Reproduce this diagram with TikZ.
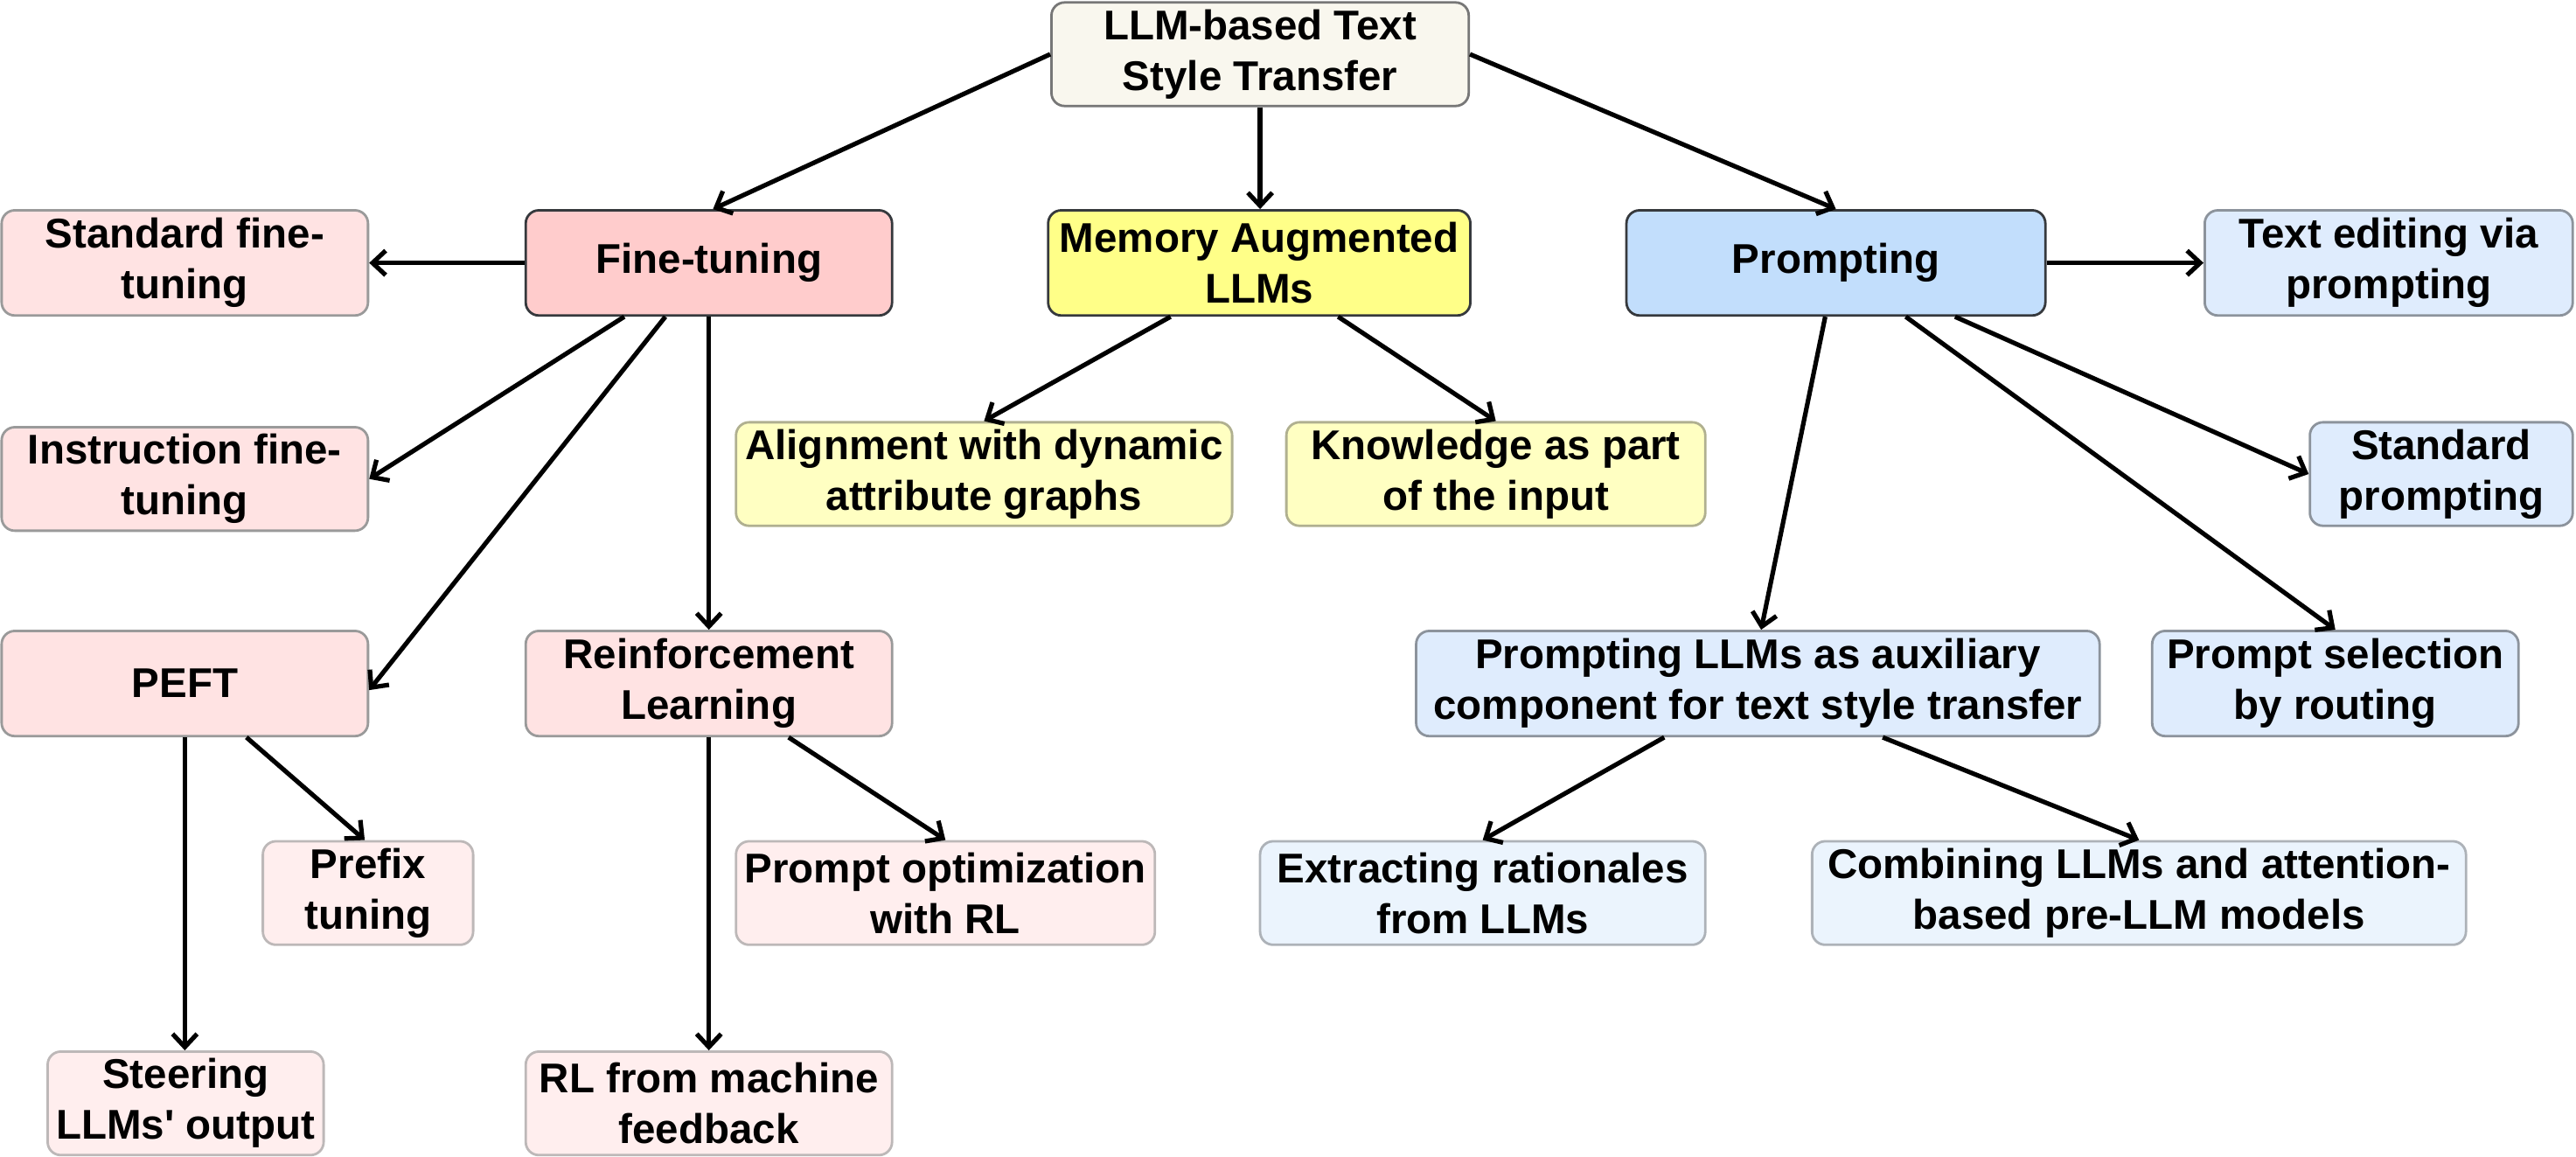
\documentclass[tikz,border=0pt]{standalone}
\usepackage{fontspec}
\setmainfont{Liberation Sans}
\newfontfamily\nomapfont{Liberation Sans}
\usetikzlibrary{arrows.meta,calc}
\definecolor{rootfill}{HTML}{F9F7EE}
\definecolor{rootline}{HTML}{777777}
\definecolor{mainline}{HTML}{36393D}
\definecolor{ftfill}{HTML}{FFCCCC}
\definecolor{memfill}{HTML}{FFFF88}
\definecolor{prfill}{HTML}{C2DEFC}
\definecolor{pinkA}{HTML}{FFE3E3}
\definecolor{pinkB}{HTML}{FFEEEE}
\definecolor{yelA}{HTML}{FFFFC2}
\definecolor{bluA}{HTML}{DFECFD}
\definecolor{bluB}{HTML}{EBF4FD}
\definecolor{lineA}{HTML}{9A9A9A}
\definecolor{lineB}{HTML}{BDB8B8}
\definecolor{lineYA}{HTML}{B0B090}
\definecolor{lineBA}{HTML}{8C939C}
\definecolor{lineBB}{HTML}{ADB2B8}
\def\u{1.8788pt}
\tikzset{
  box/.style={draw, rounded corners=15pt, line width=2.8pt, inner sep=0pt,
    align=center, font=\fontsize{47.5}{58}\selectfont\bfseries},
  rootbox/.style={box, fill=rootfill, draw=rootline},
  ftbox/.style={box, fill=ftfill, draw=mainline},
  membox/.style={box, fill=memfill, draw=mainline},
  prbox/.style={box, fill=prfill, draw=mainline},
  pkA/.style={box, fill=pinkA, draw=lineA},
  pkB/.style={box, fill=pinkB, draw=lineB},
  ywA/.style={box, fill=yelA, draw=lineYA},
  buA/.style={box, fill=bluA, draw=lineBA},
  buB/.style={box, fill=bluB, draw=lineBB},
  conn/.style={line width=5.2pt, -{Straight Barb[length=15pt,width=28pt,line width=5.2pt]}},
}
\newcommand{\bx}[7]{% style, name, x1,y1,x2,y2, text
  \node[#1, minimum width={(#5-#3)*\u}, minimum height={(#6-#4)*\u}] (#2) at ({(#3+#5)/2},{(#4+#6)/2}) {#7};}
\begin{document}
\begin{tikzpicture}[x=1.8788pt, y=-1.8788pt]
\useasboundingbox (0,0) rectangle (1568,704);
\bx{rootbox}{root}{640}{1.5}{894}{64.5}{LLM-based Text\\Style Transfer}
\bx{ftbox}{ft}{320}{128}{543}{192}{Fine-tuning}
\bx{membox}{mem}{638}{128}{895}{192}{Memory Augmented\\LLMs}
\bx{prbox}{pr}{990}{128}{1245}{192}{Prompting}
\bx{pkA}{std}{1}{128}{224}{192}{Standard fine-\\tuning}
\bx{buA}{ted}{1342}{128}{1566}{192}{Text editing via\\prompting}
\bx{pkA}{ins}{1}{260}{224}{323}{Instruction fine-\\tuning}
\bx{ywA}{ali}{448}{257}{750}{320}{Alignment with dynamic\\attribute graphs}
\bx{ywA}{kno}{783}{257}{1038}{320}{Knowledge as part\\of the input}
\bx{buA}{stp}{1406}{257}{1566}{320}{Standard\\prompting}
\bx{pkA}{peft}{1}{384}{224}{448}{PEFT}
\bx{pkA}{rl}{320}{384}{543}{448}{Reinforcement\\Learning}
\bx{buA}{aux}{862}{384}{1278}{448}{Prompting LLMs as auxiliary\\component for text style transfer}
\bx{buA}{sel}{1310}{384}{1533}{448}{Prompt selection\\by routing}
\bx{pkB}{pre}{160}{512}{288}{575}{Prefix\\tuning}
\bx{pkB}{pop}{448}{512}{703}{575}{Prompt optimization\\with RL}
\bx{buB}{ext}{767}{512}{1038}{575}{Extracting rationales\\from LLMs}
\bx{buB}{com}{1103}{512}{1501}{575}{Combining LLMs and attention-\\based pre-LLM models}
\bx{pkB}{ste}{29}{640}{197}{703}{Steering\\LLMs{\nomapfont\bfseries '} output}
\bx{pkB}{rlm}{320}{640}{543}{703}{RL from machine\\feedback}

\draw[conn] (root.west) -- ([xshift={2.5*\u}]ft.north);
\draw[conn] (root.south) -- (root.south |- mem.north);
\draw[conn] (root.east) -- (pr.north);
\draw[conn] (ft.west) -- (std.east);
\draw[conn] ([xshift={-51.5*\u}]ft.south) -- (ins.east);
\draw[conn] ([xshift={-26.5*\u}]ft.south) -- ([yshift={-4*\u}]peft.east);
\draw[conn] (ft.south) -- (rl.north);
\draw[conn] ([xshift={-54*\u}]mem.south) -- (ali.north);
\draw[conn] ([xshift={48*\u}]mem.south) -- (kno.north);
\draw[conn] (pr.east) -- (ted.west);
\draw[conn] ([xshift={72.5*\u}]pr.south) -- (stp.west);
\draw[conn] ([xshift={-6.5*\u}]pr.south) -- ([xshift={2*\u}]aux.north);
\draw[conn] ([xshift={42.5*\u}]pr.south) -- (sel.north);
\draw[conn] (peft.south) -- (peft.south |- ste.north);
\draw[conn] ([xshift={37.5*\u}]peft.south) -- ([xshift={-2*\u}]pre.north);
\draw[conn] (rl.south) -- (rlm.north);
\draw[conn] ([xshift={48.5*\u}]rl.south) -- (pop.north);
\draw[conn] ([xshift={-57*\u}]aux.south) -- (ext.north);
\draw[conn] ([xshift={76*\u}]aux.south) -- (com.north);
\end{tikzpicture}
\end{document}
